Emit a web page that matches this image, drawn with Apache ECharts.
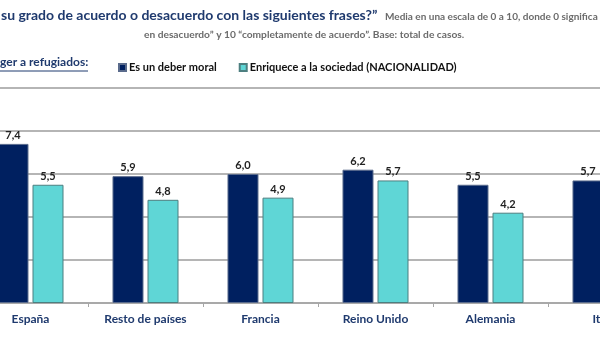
<!DOCTYPE html>
<html>
<head>
<meta charset="utf-8">
<script src="https://cdn.jsdelivr.net/npm/echarts@6/dist/echarts.min.js"></script>
<style>
  html, body { margin: 0; padding: 0; background: #fff; overflow: hidden; width: 600px; height: 337px; }
  /* the plot runs past both page edges, so the canvas is wider than the page */
  #chart { position: absolute; left: -27px; top: 0; width: 690px; height: 337px; }
</style>
</head>
<body>
<div id="chart"></div>
<script>
// Countries on the category axis
const categories = ['España', 'Resto de países', 'Francia', 'Reino Unido', 'Alemania', 'Italia'];
// Mean score (0-10) for each statement
const deberMoral = [7.4, 5.9, 6.0, 6.2, 5.5, 5.7];
const enriquece = [5.5, 4.8, 4.9, 5.7, 4.2, 5.1];
// Value-axis ticks
const yTicks = [0, 2, 4, 6, 8, 10];

const seriesNames = ['Es un deber moral', 'Enriquece a la sociedad (NACIONALIDAD)'];
const FONT = 'Lato, "Open Sans", sans-serif';
const NAVY = '#1f3a6e';
const OX = 27; // canvas offset relative to the page

const chart = echarts.init(document.getElementById('chart'), null, { renderer: 'canvas' });

const fmt = p => p.value.toFixed(1).replace('.', ',');
const labelStyle = {
  show: true, position: 'top', distance: 3, formatter: fmt,
  fontFamily: FONT, fontWeight: 'bold', fontSize: 11, color: '#222'
};

chart.setOption({
  animation: false,
  backgroundColor: '#fff',
  grid: { left: 0, right: 0, top: 88, bottom: 34, containLabel: false },
  legend: {
    data: seriesNames,
    left: 113 + OX, top: 57,
    icon: 'rect', itemWidth: 7, itemHeight: 7, itemGap: 22,
    textStyle: { fontFamily: FONT, fontWeight: 'bold', fontSize: 11, color: '#111', padding: [0, 0, 0, -2] },
    selectedMode: false
  },
  xAxis: {
    type: 'category',
    data: categories,
    axisLine: { lineStyle: { color: '#a6a6a6', width: 1.5 } },
    axisTick: { show: true, length: 4, lineStyle: { color: '#a6a6a6' } },
    axisLabel: { interval: 0, margin: 10, fontFamily: FONT, fontWeight: 'bold', fontSize: 12, color: NAVY }
  },
  yAxis: {
    type: 'value', min: yTicks[0], max: yTicks[yTicks.length - 1], interval: 2,
    axisLabel: { show: false }, axisLine: { show: false }, axisTick: { show: false },
    splitLine: { lineStyle: { color: '#9d9d9d', width: 1.5 } }
  },
  series: [
    {
      name: seriesNames[0], type: 'bar', data: deberMoral,
      barWidth: 31, barGap: '13%',
      itemStyle: { color: '#002060', borderColor: '#5a6b8c', borderWidth: 1 },
      label: labelStyle
    },
    {
      name: seriesNames[1], type: 'bar', data: enriquece,
      barWidth: 31,
      itemStyle: { color: '#5fd6d6', borderColor: '#4d7f80', borderWidth: 1 },
      label: labelStyle
    }
  ],
  graphic: [
    {
      type: 'text', left: 1 + OX, top: 8,
      style: {
        text: 'su grado de acuerdo o desacuerdo con las siguientes frases?”',
        font: 'bold 14px ' + FONT, fill: NAVY
      }
    },
    {
      type: 'text', left: 385 + OX, top: 12,
      style: {
        text: 'Media en una escala de 0 a 10, donde 0 significa “',
        font: 'bold 10px ' + FONT, fill: '#6b6b6b'
      }
    },
    {
      type: 'text', left: 144 + OX, top: 30,
      style: {
        text: 'en desacuerdo” y 10 “completamente de acuerdo”. Base: total de casos.',
        font: 'bold 10.2px ' + FONT, fill: '#6b6b6b'
      }
    },
    {
      type: 'text', left: 0 + OX, top: 56,
      style: {
        text: 'ger a refugiados:',
        font: 'bold 12px ' + FONT, fill: NAVY
      }
    },
    {
      type: 'line', shape: { x1: OX, y1: 71, x2: 88 + OX, y2: 71 },
      style: { stroke: NAVY, lineWidth: 1 }
    }
  ]
});
</script>
</body>
</html>
